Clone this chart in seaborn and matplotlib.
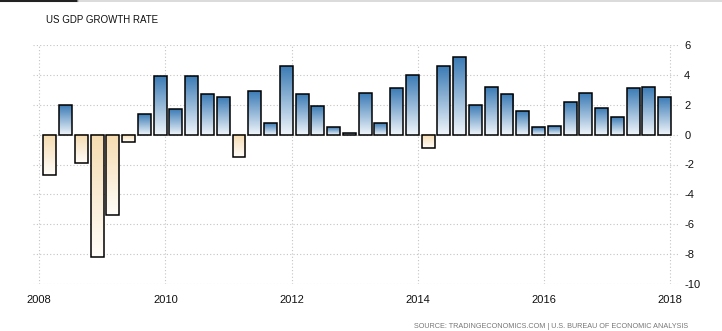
import numpy as np
import pandas as pd
import matplotlib
matplotlib.use("Agg")
import matplotlib.pyplot as plt
import seaborn as sns
from matplotlib.colors import LinearSegmentedColormap
from matplotlib.lines import Line2D

# ---- data ----
years = [y for y in range(2008, 2018) for _ in range(4)]
quarters = [q for _ in range(2008, 2018) for q in range(1, 5)]
growth = [-2.7, 2.0, -1.9, -8.2,
          -5.4, -0.5, 1.4, 3.9,
          1.7, 3.9, 2.7, 2.5,
          -1.5, 2.9, 0.8, 4.6,
          2.7, 1.9, 0.5, 0.1,
          2.8, 0.8, 3.1, 4.0,
          -0.9, 4.6, 5.2, 2.0,
          3.2, 2.7, 1.6, 0.5,
          0.6, 2.2, 2.8, 1.8,
          1.2, 3.1, 3.2, 2.5]
year_ticks = [2008, 2010, 2012, 2014, 2016, 2018]
y_ticks = [6, 4, 2, 0, -2, -4, -6, -8, -10]
title = "US GDP GROWTH RATE"
source = "SOURCE: TRADINGECONOMICS.COM | U.S. BUREAU OF ECONOMIC ANALYSIS"

df = pd.DataFrame({"year": years, "quarter": quarters, "growth": growth})
df["t"] = (df["year"] + (df["quarter"] - 1 + 0.667) / 4).round(4)

sns.set_style("white")
plt.rcParams["font.family"] = ["Liberation Sans", "DejaVu Sans"]

fig = plt.figure(figsize=(7.22, 3.31), dpi=100)
ax = fig.add_axes([33 / 722, 1 - 284 / 331, (680 - 33) / 722, (284 - 45) / 331])

sns.barplot(data=df, x="t", y="growth", native_scale=True, width=0.82,
            color="white", edgecolor="black", linewidth=1.1, ax=ax, zorder=3)

cmap_pos = LinearSegmentedColormap.from_list("pos", ["#f1f6fb", "#3b7bb5"])
cmap_neg = LinearSegmentedColormap.from_list("neg", ["#fffdf9", "#f5dbb0"])
grad = np.linspace(0, 1, 256).reshape(-1, 1)
for p in list(ax.patches):
    x0, y0, w, h = p.get_x(), p.get_y(), p.get_width(), p.get_height()
    ylo, yhi = min(y0, y0 + h), max(y0, y0 + h)
    p.set_facecolor("none")
    p.set_zorder(4)
    cm = cmap_pos if h >= 0 else cmap_neg
    ax.imshow(grad, extent=[x0, x0 + w, ylo, yhi], origin="lower",
              aspect="auto", cmap=cm, zorder=3, interpolation="bilinear")

ax.set_xlim(2007.9, 2018.16)
ax.set_ylim(-10, 6)
ax.set_xticks(year_ticks)
ax.set_xticklabels([str(y) for y in year_ticks])
ax.set_yticks(y_ticks)
ax.set_yticklabels([str(v) for v in y_ticks])
ax.yaxis.tick_right()
ax.set_xlabel("")
ax.set_ylabel("")
for s in ax.spines.values():
    s.set_visible(False)
ax.grid(True, linestyle=(0, (1, 2)), color="#c4c4c4", linewidth=0.8, zorder=0)
ax.set_axisbelow(True)
ax.tick_params(axis="x", length=4, color="#c4c4c4", pad=4, labelsize=8, labelcolor="#111111")
ax.tick_params(axis="y", length=0, pad=3, labelsize=8, labelcolor="#111111")

fig.text(46 / 722, 1 - 20 / 331, title, fontsize=7.0, color="#111111", va="center", ha="left")
fig.text(688 / 722, 1 - 326 / 331, source, fontsize=5.2, color="#777777", va="center", ha="right")

fig.add_artist(Line2D([0, 78 / 722], [1 - 0.6 / 331] * 2, color="#222222", lw=1.5))
fig.add_artist(Line2D([78 / 722, 1], [1 - 0.6 / 331] * 2, color="#d4d4d4", lw=1.2))

fig.savefig("out.png", dpi=100)
